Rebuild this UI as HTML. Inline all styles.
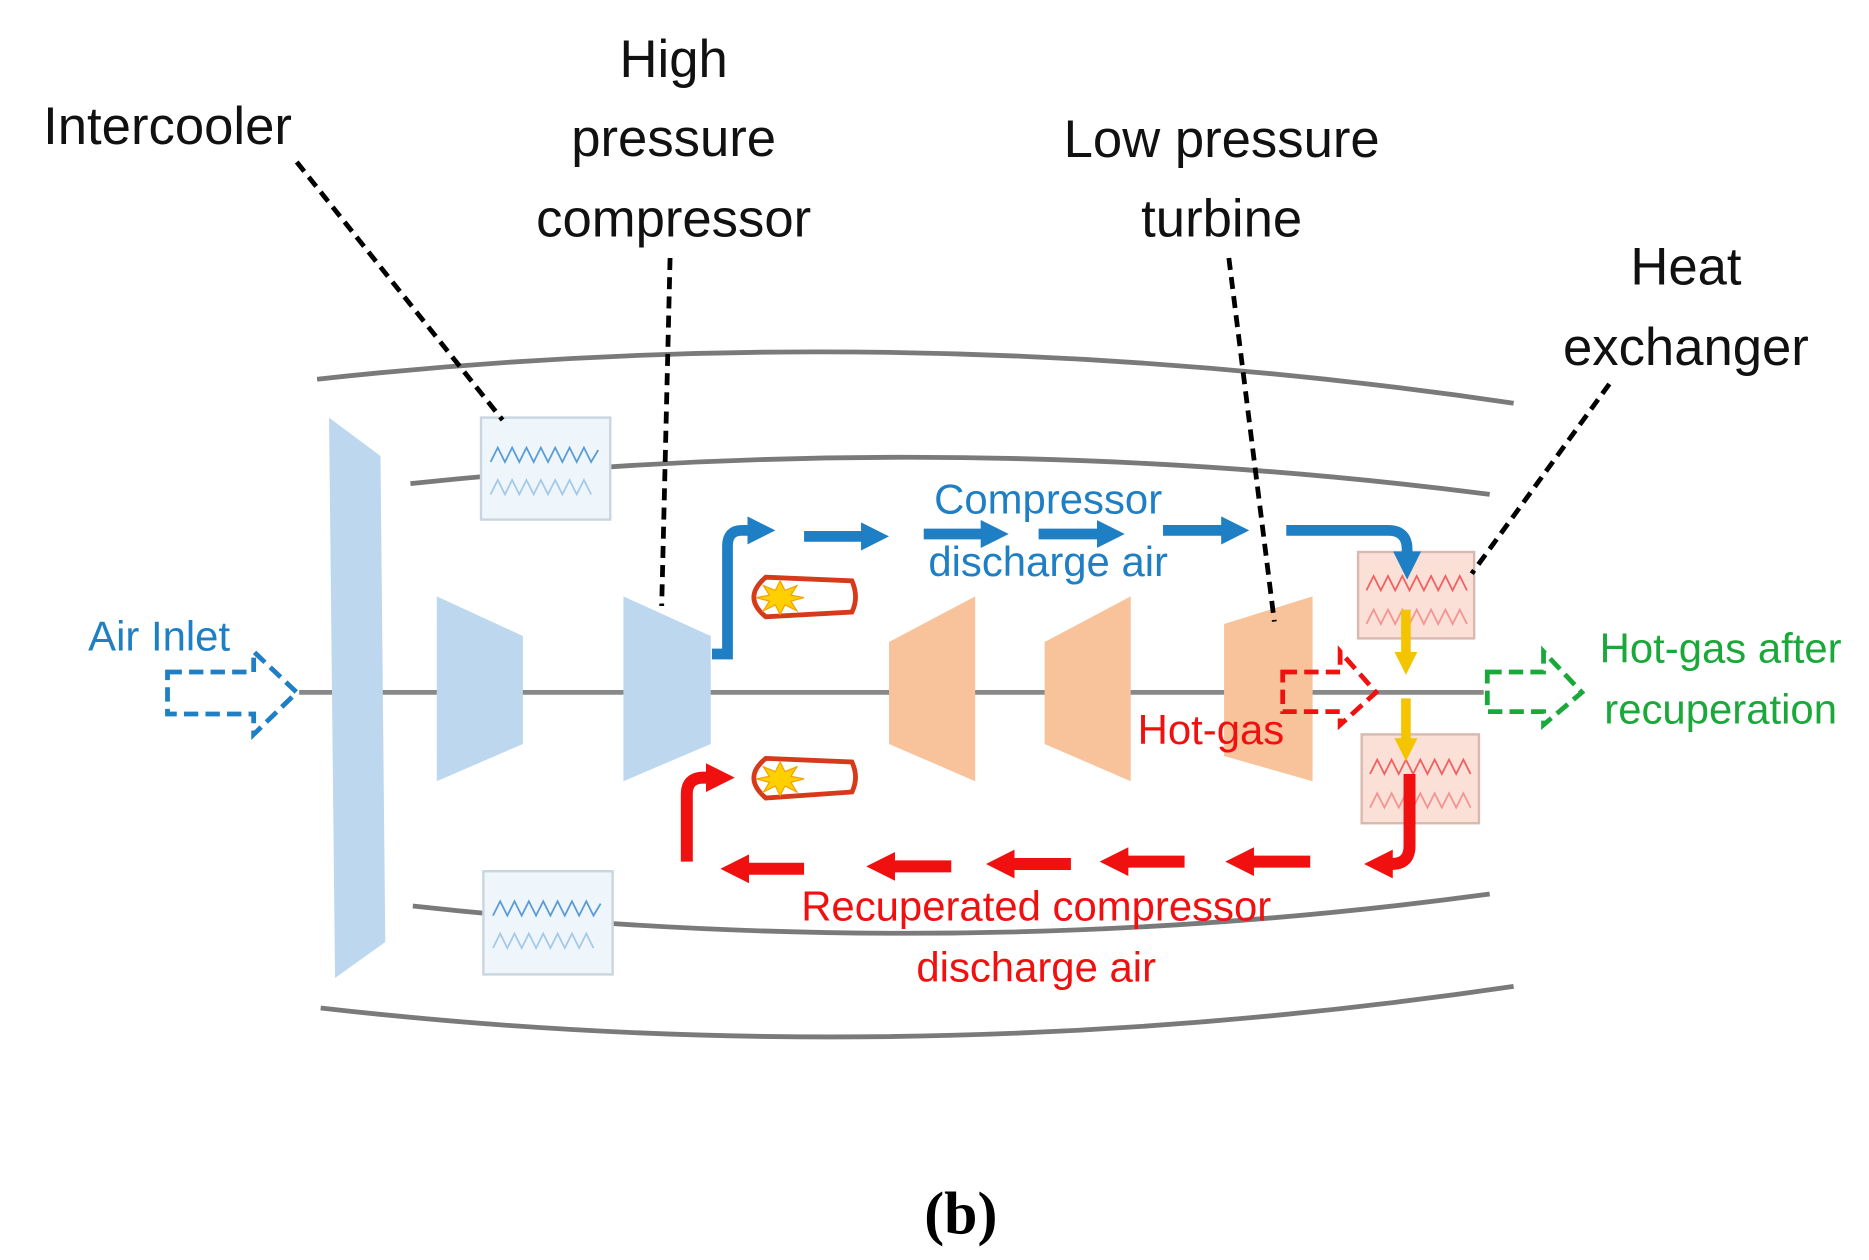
<!DOCTYPE html>
<html><head><meta charset="utf-8"><style>
html,body{margin:0;padding:0;background:#fff;}
svg{display:block;}
text{font-family:"Liberation Sans",sans-serif;}
</style></head><body>
<svg width="1869" height="1260" viewBox="0 0 1562 1050" preserveAspectRatio="none" xmlns="http://www.w3.org/2000/svg">
<defs>
<marker id="bh" markerWidth="2.6" markerHeight="2.6" refX="0.6" refY="1.3" orient="auto" markerUnits="strokeWidth"><path d="M0,0 L2.6,1.3 L0,2.6 Z" fill="#1f7fc4"/></marker>
<marker id="rh" markerWidth="2.4" markerHeight="2.4" refX="0.6" refY="1.2" orient="auto" markerUnits="strokeWidth"><path d="M0,0 L2.4,1.2 L0,2.4 Z" fill="#f01010"/></marker>
<marker id="yh" markerWidth="2.4" markerHeight="2.4" refX="0.6" refY="1.2" orient="auto" markerUnits="strokeWidth"><path d="M0,0 L2.4,1.2 L0,2.4 Z" fill="#f5c400"/></marker>
</defs>
<g fill="none" stroke="#7a7a7a" stroke-width="4">
<path d="M265,316 Q760,262 1265,336"/>
<path d="M268,840 Q760,896 1265,822"/>
<path d="M343,403 Q800,355 1245,412"/>
<path d="M345,755 Q800,805 1245,745"/>
</g>
<line x1="250" y1="577" x2="1240" y2="577" stroke="#888" stroke-width="4"/>
<g fill="#bdd7ee">
<polygon points="275,348 318,380 322,785 280,815"/>
<polygon points="365,497 437,530 437,620 365,651"/>
<polygon points="521,497 594,530 594,620 521,651"/>
</g>
<g fill="#f8c39b">
<polygon points="743,535 815,497 815,651 743,620"/>
<polygon points="873,535 945,497 945,651 873,620"/>
<polygon points="1023,520 1097,497 1097,651 1023,630"/>
</g>
<g stroke="#c9d6df" stroke-width="2" fill="#eef6fb">
<rect x="402" y="348" width="108" height="85"/>
<rect x="404" y="726" width="108" height="86"/>
</g>
<g fill="none" stroke="#5b9bd5" stroke-width="1.5">
<path d="M410,385 l6,-12 l6,12 l6,-12 l6,12 l6,-12 l6,12 l6,-12 l6,12 l6,-12 l6,12 l6,-12 l6,12 l6,-12 l6,12 l6,-10"/>
<path d="M410,412 l6,-12 l6,12 l6,-12 l6,12 l6,-12 l6,12 l6,-12 l6,12 l6,-12 l6,12 l6,-12 l6,12 l6,-12 l6,12" opacity="0.5"/>
<path d="M412,763 l6,-12 l6,12 l6,-12 l6,12 l6,-12 l6,12 l6,-12 l6,12 l6,-12 l6,12 l6,-12 l6,12 l6,-12 l6,12 l6,-10"/>
<path d="M412,790 l6,-12 l6,12 l6,-12 l6,12 l6,-12 l6,12 l6,-12 l6,12 l6,-12 l6,12 l6,-12 l6,12 l6,-12 l6,12" opacity="0.5"/>
</g>
<g stroke="#d9b8b0" stroke-width="2" fill="#fbe0d8">
<rect x="1135" y="460" width="97" height="72"/>
<rect x="1138" y="612" width="98" height="74"/>
</g>
<g fill="none" stroke="#f06060" stroke-width="1.5">
<path d="M1142,492 l6,-12 l6,12 l6,-12 l6,12 l6,-12 l6,12 l6,-12 l6,12 l6,-12 l6,12 l6,-12 l6,12 l6,-12 l6,12"/>
<path d="M1142,520 l6,-12 l6,12 l6,-12 l6,12 l6,-12 l6,12 l6,-12 l6,12 l6,-12 l6,12 l6,-12 l6,12 l6,-12 l6,12" opacity="0.6"/>
<path d="M1145,645 l6,-12 l6,12 l6,-12 l6,12 l6,-12 l6,12 l6,-12 l6,12 l6,-12 l6,12 l6,-12 l6,12 l6,-12 l6,12"/>
<path d="M1145,673 l6,-12 l6,12 l6,-12 l6,12 l6,-12 l6,12 l6,-12 l6,12 l6,-12 l6,12 l6,-12 l6,12 l6,-12 l6,12" opacity="0.6"/>
</g>
<g fill="#fff" stroke="#d63a1a" stroke-width="4">
<path d="M640,481 L712,484 Q718,498 712,510 L640,514 Q620,498 640,481 Z"/>
<path d="M640,632 L712,635 Q718,648 712,660 L640,665 Q620,648 640,632 Z"/>
</g>
<g fill="#ffd000" stroke="#f5a000" stroke-width="1">
<polygon points="652,484 656,492 666,488 661,496 672,498 661,501 666,509 656,504 652,512 648,504 638,509 643,501 632,498 643,496 638,488 648,492"/>
<polygon points="652,635 656,643 666,639 661,647 672,649 661,652 666,660 656,655 652,663 648,655 638,660 643,652 632,649 643,647 638,639 648,643"/>
</g>
<g fill="none" stroke="#1f7fc4" stroke-width="9">
<path d="M595,545 L608,545 L608,455 Q608,442 620,442 L630,442" marker-end="url(#bh)"/>
<line x1="672" y1="447" x2="725" y2="447" marker-end="url(#bh)"/>
<line x1="772" y1="445" x2="825" y2="445" marker-end="url(#bh)"/>
<line x1="868" y1="445" x2="922" y2="445" marker-end="url(#bh)"/>
<line x1="972" y1="442" x2="1026" y2="442" marker-end="url(#bh)"/>
<path d="M1075,442 L1160,442 Q1176,442 1176,458 L1176,465" marker-end="url(#bh)"/>
</g>
<g fill="none" stroke="#f01010" stroke-width="10">
<path d="M1178,645 L1178,705 Q1178,720 1163,720 L1158,720" marker-end="url(#rh)"/>
<line x1="1095" y1="718" x2="1042" y2="718" marker-end="url(#rh)"/>
<line x1="990" y1="718" x2="937" y2="718" marker-end="url(#rh)"/>
<line x1="895" y1="720" x2="842" y2="720" marker-end="url(#rh)"/>
<line x1="795" y1="722" x2="742" y2="722" marker-end="url(#rh)"/>
<line x1="672" y1="724" x2="620" y2="724" marker-end="url(#rh)"/>
<path d="M574,718 L574,662 Q574,648 588,648 L596,648" marker-end="url(#rh)"/>
</g>
<g stroke="#f5c400" stroke-width="8">
<line x1="1175" y1="508" x2="1175" y2="548" marker-end="url(#yh)"/>
<line x1="1175" y1="582" x2="1175" y2="620" marker-end="url(#yh)"/>
</g>
<g fill="none" stroke-width="4" stroke-dasharray="12,6">
<path d="M140,560 L212,560 L212,543 L248,577 L212,612 L212,595 L140,595 Z" stroke="#1f7fc4"/>
<path d="M1243,560 L1290,560 L1290,543 L1322,577 L1290,604 L1290,593 L1243,593 Z" stroke="#1aa83a"/>
<path d="M1072,560 L1120,560 L1120,543 L1150,577 L1120,604 L1120,593 L1072,593 Z" stroke="#f01010"/>
</g>
<g stroke="#000" stroke-width="4" stroke-dasharray="10,6" fill="none">
<line x1="248" y1="135" x2="420" y2="350"/>
<line x1="560" y1="215" x2="553" y2="505"/>
<line x1="1027" y1="215" x2="1065" y2="518"/>
<line x1="1345" y1="320" x2="1230" y2="478"/>
</g>
<g font-size="44" fill="#111" text-anchor="middle">
<text x="140" y="120">Intercooler</text>
<text x="563" y="64">High</text>
<text x="563" y="130">pressure</text>
<text x="563" y="197">compressor</text>
<text x="1021" y="131">Low pressure</text>
<text x="1021" y="197">turbine</text>
<text x="1409" y="237">Heat</text>
<text x="1409" y="304">exchanger</text>
</g>
<g font-size="35" text-anchor="middle">
<text x="876" y="428" fill="#1f7fc4">Compressor</text>
<text x="876" y="480" fill="#1f7fc4">discharge air</text>
<text x="133" y="542" fill="#1f7fc4">Air Inlet</text>
<text x="1012" y="620" fill="#f01010">Hot-gas</text>
<text x="866" y="767" fill="#f01010">Recuperated compressor</text>
<text x="866" y="818" fill="#f01010">discharge air</text>
<text x="1438" y="552" fill="#1aa83a">Hot-gas after</text>
<text x="1438" y="603" fill="#1aa83a">recuperation</text>
</g>
<text x="803" y="1028" font-weight="bold" font-size="50" text-anchor="middle" fill="#000" style="font-family:'Liberation Serif',serif">(b)</text>
</svg>
</body></html>
